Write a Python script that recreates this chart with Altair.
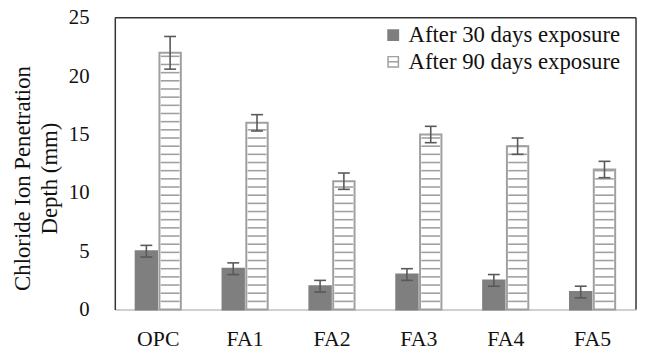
import altair as alt
import pandas as pd

categories = ["OPC", "FA1", "FA2", "FA3", "FA4", "FA5"]
series = ["After 30 days exposure", "After 90 days exposure"]
depth_30 = [5.0, 3.5, 2.0, 3.0, 2.5, 1.5]
depth_90 = [22.0, 16.0, 11.0, 15.0, 14.0, 12.0]
err_30 = [0.5, 0.5, 0.5, 0.5, 0.5, 0.5]
err_90 = [1.4, 0.7, 0.7, 0.7, 0.7, 0.7]

rows = []
for i, c in enumerate(categories):
    rows.append({"category": c, "series": series[0], "value": depth_30[i], "err": err_30[i]})
    rows.append({"category": c, "series": series[1], "value": depth_90[i], "err": err_90[i]})
df = pd.DataFrame(rows)

FONT = "Liberation Serif"
TXT = "#111111"
FRAME = "#333333"
W, H = 527, 295

yaxis = alt.Axis(
    title=["Chloride Ion Penetration", "Depth (mm)"],
    values=[0, 5, 10, 15, 20, 25],
    grid=False, domain=True, domainColor=FRAME, domainWidth=1.5, ticks=False,
    labelPadding=26, labelFontSize=21, labelFont=FONT, labelColor=TXT,
    titleFont=FONT, titleFontSize=23, titleFontWeight="normal", titleColor=TXT,
    titleAngle=-90, titleAlign="center", titleBaseline="alphabetic",
    titleX=-86, titleY=162, titleLineHeight=27,
)
yscale = alt.Scale(domain=[0, 25], nice=False)

base = alt.Chart(df).encode(
    x=alt.X("category:N", sort=categories,
            scale=alt.Scale(paddingInner=0.48, paddingOuter=0.24),
            axis=alt.Axis(title=None, labelAngle=0, ticks=False, grid=False,
                          domain=True, domainColor="#d0d0d0", domainWidth=2,
                          labelPadding=19, labelFontSize=22, labelFont=FONT,
                          labelColor=TXT)),
    xOffset=alt.XOffset("series:N", scale=alt.Scale(domain=series, paddingInner=0.1)),
)

legend = alt.Legend(
    title=None, orient="none", legendX=270, legendY=6,
    symbolType="M-1,-1H1V1H-1Z M-1,0H1", symbolSize=110, symbolStrokeWidth=1.5,
    labelFont=FONT, labelFontSize=23, labelColor=TXT, labelOffset=4,
    labelLimit=400, rowPadding=3,
)

bars = base.mark_bar(strokeWidth=2).encode(
    y=alt.Y("value:Q", scale=yscale, axis=yaxis),
    fill=alt.Fill("series:N", scale=alt.Scale(domain=series, range=["#7f7f7f", "#ffffff"]), legend=legend),
    stroke=alt.Stroke("series:N", scale=alt.Scale(domain=series, range=["#7f7f7f", "#a0a0a0"]), legend=legend),
)

hatch = base.transform_filter(
    alt.datum.series == series[1]
).transform_calculate(
    h="sequence(0.7, datum.value, 0.7)"
).transform_flatten(["h"]).mark_tick(
    size=19, thickness=1.6, color="#a0a0a0", opacity=1
).encode(y=alt.Y("h:Q", scale=yscale, axis=yaxis))

err = base.transform_calculate(
    lo="datum.value - datum.err", hi="datum.value + datum.err"
)
err_rule = err.mark_rule(color="#595959", strokeWidth=1.6).encode(
    y=alt.Y("lo:Q", scale=yscale, axis=yaxis), y2="hi:Q")
cap_lo = err.mark_tick(size=12, thickness=1.6, color="#595959", opacity=1).encode(
    y=alt.Y("lo:Q", scale=yscale, axis=yaxis))
cap_hi = err.mark_tick(size=12, thickness=1.6, color="#595959", opacity=1).encode(
    y=alt.Y("hi:Q", scale=yscale, axis=yaxis))

frame_df = pd.DataFrame({"f": [0]})
top_line = alt.Chart(frame_df).mark_rule(color=FRAME, strokeWidth=1.5).encode(
    x=alt.value(0), x2=alt.value(W), y=alt.value(0))
right_line = alt.Chart(frame_df).mark_rule(color=FRAME, strokeWidth=1.5).encode(
    x=alt.value(W), y=alt.value(0), y2=alt.value(H))

chart = alt.layer(bars, hatch, err_rule, cap_lo, cap_hi, top_line, right_line).properties(
    width=W, height=H,
    autosize=alt.AutoSizeParams(type="none"),
    padding={"left": 108, "top": 8, "right": 2, "bottom": 40},
    background="white",
).configure_view(stroke=None)

chart.save("out.html", embed_options={"renderer": "svg", "actions": False})
